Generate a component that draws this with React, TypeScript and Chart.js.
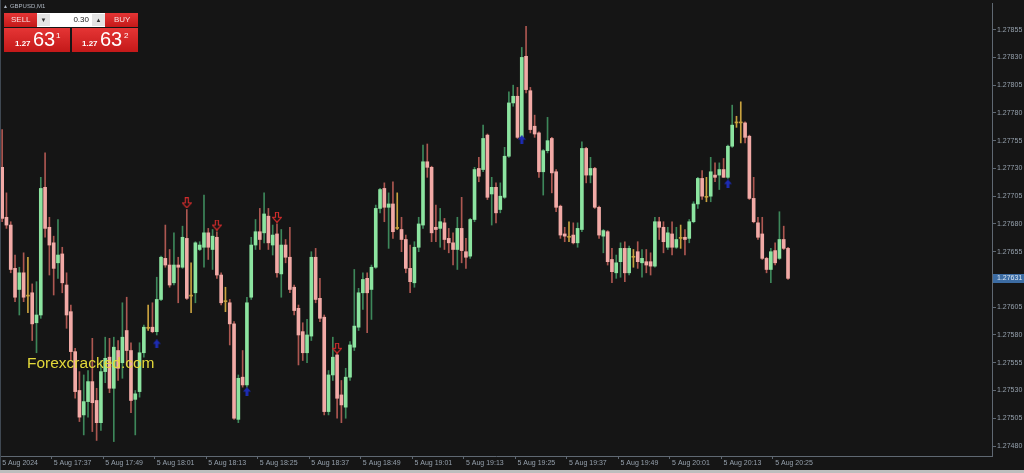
import React, { useEffect, useRef } from "react";
import { Chart, registerables } from "chart.js";

Chart.register(...registerables);

// ---- data (GBPUSD, M1, 5 Aug 2024 from 17:25) ----
const opens = [
  1.27731, 1.27686, 1.27679, 1.27640, 1.27621, 1.27636, 1.27615, 1.27618, 1.27591, 1.27598,
  1.27713, 1.27677, 1.27663, 1.27645, 1.27653, 1.27625, 1.27601, 1.27565, 1.27530, 1.27508,
  1.27520, 1.27538, 1.27521, 1.27501, 1.27547, 1.27560, 1.27532, 1.27566, 1.27555, 1.27584,
  1.27566, 1.27522, 1.27529, 1.27564, 1.27586, 1.27587, 1.27583, 1.27612, 1.27649, 1.27643,
  1.27627, 1.27643, 1.27641, 1.27667, 1.27615, 1.27618, 1.27657, 1.27659, 1.27672, 1.27657,
  1.27668, 1.27634, 1.27610, 1.27609, 1.27590, 1.27504, 1.27542, 1.27535, 1.27614, 1.27661,
  1.27673, 1.27672, 1.27687, 1.27661, 1.27671, 1.27635, 1.27661, 1.27650, 1.27623, 1.27604,
  1.27583, 1.27564, 1.27579, 1.27650, 1.27613, 1.27596, 1.27511, 1.27544, 1.27562, 1.27526,
  1.27515, 1.27542, 1.27569, 1.27587, 1.27618, 1.27631, 1.27621, 1.27641, 1.27694, 1.27712,
  1.27695, 1.27698, 1.27676, 1.27675, 1.27666, 1.27640, 1.27627, 1.27659, 1.27679, 1.27736,
  1.27731, 1.27677, 1.27676, 1.27681, 1.27667, 1.27663, 1.27657, 1.27676, 1.27655, 1.27651,
  1.27684, 1.27730, 1.27729, 1.27760, 1.27707, 1.27713, 1.27693, 1.27704, 1.27741, 1.27789,
  1.27795, 1.27758, 1.27831, 1.27800, 1.27768, 1.27762, 1.27727, 1.27746, 1.27757, 1.27727,
  1.27696, 1.27671, 1.27668, 1.27670, 1.27663, 1.27675, 1.27748, 1.27724, 1.27730, 1.27695,
  1.27669, 1.27673, 1.27648, 1.27636, 1.27646, 1.27658, 1.27636, 1.27650, 1.27655, 1.27645,
  1.27646, 1.27646, 1.27642, 1.27682, 1.27677, 1.27659, 1.27671, 1.27659, 1.27667, 1.27668,
  1.27667, 1.27682, 1.27698, 1.27721, 1.27704, 1.27705, 1.27724, 1.27724, 1.27729, 1.27722,
  1.27750, 1.27771, 1.27771, 1.27771, 1.27759, 1.27703, 1.27681, 1.27671, 1.27649, 1.27639,
  1.27656, 1.27649, 1.27666, 1.27658,
];

const highs = [
  1.27765, 1.27708, 1.27682, 1.27652, 1.27641, 1.27654, 1.27650, 1.27626, 1.27628, 1.27722,
  1.27744, 1.27686, 1.27669, 1.27684, 1.27659, 1.27636, 1.27607, 1.27568, 1.27547, 1.27544,
  1.27548, 1.27577, 1.27532, 1.27557, 1.27578, 1.27577, 1.27578, 1.27575, 1.27609, 1.27614,
  1.27573, 1.27530, 1.27573, 1.27589, 1.27607, 1.27609, 1.27632, 1.27651, 1.27679, 1.27657,
  1.27672, 1.27650, 1.27678, 1.27693, 1.27645, 1.27664, 1.27664, 1.27706, 1.27676, 1.27675,
  1.27673, 1.27636, 1.27623, 1.27612, 1.27592, 1.27544, 1.27566, 1.27614, 1.27668, 1.27684,
  1.27694, 1.27708, 1.27694, 1.27679, 1.27680, 1.27675, 1.27666, 1.27677, 1.27625, 1.27607,
  1.27591, 1.27594, 1.27655, 1.27658, 1.27631, 1.27598, 1.27548, 1.27578, 1.27563, 1.27539,
  1.27550, 1.27574, 1.27639, 1.27622, 1.27636, 1.27636, 1.27643, 1.27697, 1.27712, 1.27717,
  1.27708, 1.27718, 1.27708, 1.27686, 1.27670, 1.27661, 1.27664, 1.27686, 1.27751, 1.27752,
  1.27732, 1.27697, 1.27694, 1.27685, 1.27676, 1.27672, 1.27686, 1.27704, 1.27667, 1.27685,
  1.27731, 1.27740, 1.27769, 1.27761, 1.27722, 1.27717, 1.27717, 1.27749, 1.27799, 1.27805,
  1.27803, 1.27839, 1.27858, 1.27803, 1.27778, 1.27763, 1.27747, 1.27776, 1.27758, 1.27729,
  1.27697, 1.27677, 1.27682, 1.27681, 1.27681, 1.27754, 1.27749, 1.27740, 1.27731, 1.27696,
  1.27675, 1.27674, 1.27658, 1.27652, 1.27663, 1.27664, 1.27660, 1.27657, 1.27664, 1.27657,
  1.27657, 1.27654, 1.27686, 1.27686, 1.27682, 1.27677, 1.27682, 1.27677, 1.27679, 1.27675,
  1.27684, 1.27700, 1.27722, 1.27728, 1.27722, 1.27740, 1.27735, 1.27735, 1.27739, 1.27751,
  1.27787, 1.27777, 1.27790, 1.27772, 1.27760, 1.27722, 1.27686, 1.27686, 1.27650, 1.27658,
  1.27663, 1.27691, 1.27678, 1.27659,
];

const lows = [
  1.27682, 1.27676, 1.27636, 1.27610, 1.27598, 1.27610, 1.27600, 1.27575, 1.27564, 1.27595,
  1.27668, 1.27634, 1.27616, 1.27631, 1.27618, 1.27586, 1.27557, 1.27523, 1.27502, 1.27490,
  1.27506, 1.27493, 1.27485, 1.27494, 1.27537, 1.27528, 1.27484, 1.27539, 1.27541, 1.27553,
  1.27510, 1.27490, 1.27524, 1.27560, 1.27584, 1.27582, 1.27580, 1.27611, 1.27641, 1.27623,
  1.27625, 1.27609, 1.27640, 1.27612, 1.27600, 1.27609, 1.27656, 1.27641, 1.27648, 1.27639,
  1.27631, 1.27607, 1.27601, 1.27571, 1.27504, 1.27501, 1.27533, 1.27533, 1.27612, 1.27657,
  1.27657, 1.27663, 1.27657, 1.27652, 1.27632, 1.27614, 1.27645, 1.27618, 1.27598, 1.27553,
  1.27557, 1.27555, 1.27575, 1.27609, 1.27592, 1.27508, 1.27508, 1.27539, 1.27505, 1.27501,
  1.27505, 1.27539, 1.27566, 1.27584, 1.27603, 1.27582, 1.27594, 1.27640, 1.27690, 1.27682,
  1.27658, 1.27667, 1.27675, 1.27655, 1.27636, 1.27618, 1.27623, 1.27655, 1.27676, 1.27722,
  1.27664, 1.27664, 1.27659, 1.27657, 1.27654, 1.27643, 1.27639, 1.27645, 1.27640, 1.27649,
  1.27682, 1.27718, 1.27727, 1.27702, 1.27679, 1.27681, 1.27690, 1.27703, 1.27740, 1.27786,
  1.27757, 1.27756, 1.27798, 1.27762, 1.27758, 1.27722, 1.27706, 1.27744, 1.27708, 1.27691,
  1.27667, 1.27664, 1.27664, 1.27662, 1.27659, 1.27673, 1.27717, 1.27717, 1.27694, 1.27667,
  1.27654, 1.27643, 1.27627, 1.27631, 1.27632, 1.27628, 1.27634, 1.27641, 1.27640, 1.27632,
  1.27636, 1.27634, 1.27641, 1.27666, 1.27654, 1.27657, 1.27652, 1.27658, 1.27658, 1.27652,
  1.27663, 1.27681, 1.27694, 1.27702, 1.27700, 1.27700, 1.27718, 1.27711, 1.27722, 1.27721,
  1.27749, 1.27767, 1.27753, 1.27753, 1.27702, 1.27681, 1.27666, 1.27648, 1.27636, 1.27627,
  1.27643, 1.27648, 1.27657, 1.27630,
];

const closes = [
  1.27685, 1.27679, 1.27639, 1.27614, 1.27636, 1.27614, 1.27615, 1.27590, 1.27598, 1.27712,
  1.27676, 1.27661, 1.27640, 1.27652, 1.27627, 1.27598, 1.27565, 1.27529, 1.27506, 1.27520,
  1.27538, 1.27519, 1.27501, 1.27547, 1.27559, 1.27532, 1.27569, 1.27550, 1.27578, 1.27566,
  1.27521, 1.27527, 1.27564, 1.27587, 1.27586, 1.27583, 1.27612, 1.27650, 1.27643, 1.27625,
  1.27643, 1.27641, 1.27668, 1.27613, 1.27615, 1.27663, 1.27661, 1.27672, 1.27659, 1.27669,
  1.27634, 1.27609, 1.27610, 1.27590, 1.27505, 1.27541, 1.27535, 1.27609, 1.27661, 1.27673,
  1.27666, 1.27689, 1.27663, 1.27670, 1.27636, 1.27661, 1.27650, 1.27621, 1.27602, 1.27580,
  1.27564, 1.27580, 1.27650, 1.27612, 1.27595, 1.27511, 1.27544, 1.27560, 1.27523, 1.27517,
  1.27542, 1.27571, 1.27588, 1.27618, 1.27630, 1.27618, 1.27641, 1.27694, 1.27711, 1.27695,
  1.27698, 1.27673, 1.27676, 1.27666, 1.27640, 1.27628, 1.27659, 1.27680, 1.27736, 1.27731,
  1.27672, 1.27675, 1.27682, 1.27666, 1.27663, 1.27657, 1.27676, 1.27656, 1.27650, 1.27684,
  1.27729, 1.27723, 1.27757, 1.27704, 1.27713, 1.27690, 1.27705, 1.27741, 1.27789, 1.27795,
  1.27758, 1.27830, 1.27801, 1.27765, 1.27761, 1.27727, 1.27746, 1.27755, 1.27726, 1.27695,
  1.27670, 1.27669, 1.27668, 1.27663, 1.27676, 1.27748, 1.27724, 1.27730, 1.27695, 1.27670,
  1.27674, 1.27646, 1.27637, 1.27645, 1.27658, 1.27636, 1.27658, 1.27650, 1.27646, 1.27649,
  1.27643, 1.27642, 1.27682, 1.27677, 1.27664, 1.27672, 1.27659, 1.27666, 1.27667, 1.27666,
  1.27682, 1.27698, 1.27721, 1.27705, 1.27704, 1.27727, 1.27722, 1.27729, 1.27722, 1.27750,
  1.27769, 1.27771, 1.27771, 1.27758, 1.27703, 1.27682, 1.27668, 1.27649, 1.27639, 1.27655,
  1.27645, 1.27666, 1.27658, 1.27631,
];

// signal arrows (bar index, price)
const sellIdx = [43, 50, 64, 78];
const sellPrice = [1.27699, 1.27679, 1.27686, 1.27568];
const buyIdx = [36, 57, 121, 169];
const buyPrice = [1.27572, 1.27529, 1.27756, 1.27716];

// axis labels
const yTicks = [
  1.2748, 1.27505, 1.2753, 1.27555, 1.2758, 1.27605, 1.2763, 1.27655,
  1.2768, 1.27705, 1.2773, 1.27755, 1.2778, 1.27805, 1.2783, 1.27855,
];
const xTickTimes = [
  "17:37", "17:49", "18:01", "18:13", "18:25", "18:37", "18:49", "19:01",
  "19:13", "19:25", "19:37", "19:49", "20:01", "20:13", "20:25",
];
const firstLabel = "5 Aug 2024";
const SLOTS = 231; // visible bar slots incl. empty right margin
const START_MIN = 17 * 60 + 25;
const Y_MIN = 1.27471;
const Y_MAX = 1.27879;

const categories: string[] = Array.from({ length: SLOTS }, (_, i) => {
  const m = START_MIN + i;
  return `${Math.floor(m / 60)}:${String(m % 60).padStart(2, "0")}`;
});

const BULL = "#8ce4a0";
const BEAR = "#f2aaa6";
const BULL_WICK = "#3d875a";
const BEAR_WICK = "#ad5751";
const DOJI = "#c9a23f";
const AXIS = "#5f6872";
const LABEL = "#95a0ac";
const FONT = "'Liberation Sans', Arial, sans-serif";

function makeSellArrow() {
  const c = document.createElement("canvas");
  c.width = 10;
  c.height = 11;
  const g = c.getContext("2d")!;
  g.strokeStyle = "#cc2c2c";
  g.lineWidth = 1.2;
  g.beginPath();
  g.moveTo(3.5, 0.5);
  g.lineTo(6.5, 0.5);
  g.lineTo(6.5, 5.5);
  g.lineTo(9.5, 5.5);
  g.lineTo(5, 10.5);
  g.lineTo(0.5, 5.5);
  g.lineTo(3.5, 5.5);
  g.closePath();
  g.stroke();
  return c;
}

function makeBuyArrow() {
  const c = document.createElement("canvas");
  c.width = 8;
  c.height = 9;
  const g = c.getContext("2d")!;
  g.fillStyle = "#1d2cb3";
  g.beginPath();
  g.moveTo(4, 0);
  g.lineTo(8, 4.5);
  g.lineTo(5.5, 4.5);
  g.lineTo(5.5, 9);
  g.lineTo(2.5, 9);
  g.lineTo(2.5, 4.5);
  g.lineTo(0, 4.5);
  g.closePath();
  g.fill();
  return c;
}

const isTickIndex = (i: number) => i === 0 || xTickTimes.includes(categories[i]);

export default function App() {
  const ref = useRef<HTMLCanvasElement | null>(null);

  useEffect(() => {
    document.body.style.margin = "0";
    const canvas = ref.current;
    if (!canvas) return;

    const bodyColors = opens.map((o, i) =>
      closes[i] > o ? BULL : closes[i] < o ? BEAR : DOJI
    );
    const wickColors = opens.map((o, i) =>
      closes[i] > o ? BULL_WICK : closes[i] < o ? BEAR_WICK : DOJI
    );

    const priceLabel = {
      id: "priceLabel",
      afterDraw(chart: any) {
        const { ctx, chartArea } = chart;
        const last = closes[closes.length - 1];
        const y = chart.scales.y.getPixelForValue(last);
        ctx.save();
        ctx.fillStyle = "#3c6ca3";
        ctx.fillRect(chartArea.right + 1, Math.round(y) - 4, 31, 9);
        ctx.fillStyle = "#d9e6f3";
        ctx.font = `7px ${FONT}`;
        ctx.textBaseline = "middle";
        ctx.textAlign = "left";
        ctx.fillText(last.toFixed(5), chartArea.right + 5, Math.round(y) + 0.5);
        ctx.restore();
      },
    };

    const chart = new Chart(canvas, {
      type: "bar",
      data: {
        labels: categories,
        datasets: [
          {
            type: "line",
            data: categories.map((_, i) => {
              const k = sellIdx.indexOf(i);
              return k >= 0 ? sellPrice[k] : null;
            }),
            showLine: false,
            pointStyle: makeSellArrow(),
            pointRadius: 5,
            order: 0,
          } as any,
          {
            type: "line",
            data: categories.map((_, i) => {
              const k = buyIdx.indexOf(i);
              return k >= 0 ? buyPrice[k] : null;
            }),
            showLine: false,
            pointStyle: makeBuyArrow(),
            pointRadius: 5,
            order: 0,
          } as any,
          {
            type: "bar",
            data: opens.map((o, i) => [Math.min(o, closes[i]), Math.max(o, closes[i])]),
            backgroundColor: bodyColors,
            barThickness: 3,
            minBarLength: 1,
            grouped: false,
            borderWidth: 0,
            order: 1,
          } as any,
          {
            type: "bar",
            data: lows.map((l, i) => [l, highs[i]]),
            backgroundColor: wickColors,
            barThickness: 1,
            grouped: false,
            borderWidth: 0,
            order: 2,
          } as any,
        ],
      },
      options: {
        responsive: false,
        animation: false,
        events: [],
        devicePixelRatio: 1,
        layout: { autoPadding: false, padding: { top: 3, left: 0, right: 0, bottom: 0 } },
        plugins: {
          legend: { display: false },
          tooltip: { enabled: false },
        },
        scales: {
          x: {
            type: "category",
            position: "bottom",
            offset: true,
            grid: {
              display: true,
              drawOnChartArea: false,
              drawTicks: true,
              tickLength: 3,
              color: (ctx: any) => (isTickIndex(ctx.index) ? AXIS : "rgba(0,0,0,0)"),
            },
            border: { display: true, color: AXIS },
            ticks: {
              autoSkip: false,
              maxRotation: 0,
              minRotation: 0,
              align: "start",
              padding: 0,
              color: LABEL,
              font: { family: FONT, size: 7 },
              callback: (_v: any, i: number) =>
                i === 0 ? firstLabel : xTickTimes.includes(categories[i]) ? "5 Aug " + categories[i] : "",
            },
            afterFit: (s: any) => {
              s.height = 17;
              s.paddingLeft = 0;
              s.paddingRight = 0;
            },
          },
          y: {
            type: "linear",
            position: "right",
            min: Y_MIN,
            max: Y_MAX,
            afterBuildTicks: (s: any) => {
              s.ticks = yTicks.map((v) => ({ value: v }));
            },
            grid: {
              display: true,
              drawOnChartArea: false,
              drawTicks: true,
              tickLength: 4,
              color: AXIS,
            },
            border: { display: true, color: AXIS },
            ticks: {
              padding: 1,
              color: LABEL,
              font: { family: FONT, size: 7 },
              callback: (v: any) => Number(v).toFixed(5),
            },
            afterFit: (s: any) => {
              s.width = 32;
              s.paddingTop = 0;
              s.paddingBottom = 0;
            },
          },
        },
      } as any,
      plugins: [priceLabel],
    });

    return () => chart.destroy();
  }, []);

  const white = "#ffffff";
  const redGrad = "linear-gradient(#e53535, #c41919)";

  return (
    <div
      style={{
        position: "absolute",
        left: 0,
        top: 0,
        width: 1024,
        height: 473,
        background: "#151515",
        overflow: "hidden",
        fontFamily: FONT,
      }}
    >
      <canvas ref={ref} width={1024} height={473} style={{ position: "absolute", left: 0, top: 0, display: "block" }} />

      {/* left border and bottom strip */}
      <div style={{ position: "absolute", left: 0, top: 0, width: 1, height: 470, background: "#3f4852" }} />
      <div style={{ position: "absolute", left: 0, top: 470, width: 1024, height: 3, background: "#bdbdbd" }} />

      {/* symbol header */}
      <div style={{ position: "absolute", left: 3, top: 2, fontSize: 6, color: "#aeb7c2", lineHeight: "8px", whiteSpace: "nowrap" }}>
        <span style={{ fontSize: 5, marginRight: 2 }}>▲</span>GBPUSD,M1
      </div>

      {/* one-click trading panel */}
      <div style={{ position: "absolute", left: 4, top: 13, width: 134, height: 14, background: redGrad }} />
      <div style={{ position: "absolute", left: 11, top: 16, fontSize: 8, lineHeight: "8px", color: "#f7e2e2" }}>SELL</div>
      <div style={{ position: "absolute", left: 114, top: 16, fontSize: 8, lineHeight: "8px", color: "#f7e2e2" }}>BUY</div>
      <div style={{ position: "absolute", left: 37, top: 13, width: 68, height: 14, background: "#ffffff" }} />
      <div style={{ position: "absolute", left: 37, top: 14, width: 13, height: 12, background: "#e4e4e4", color: "#333", fontSize: 6, lineHeight: "12px", textAlign: "center" }}>▼</div>
      <div style={{ position: "absolute", left: 92, top: 14, width: 13, height: 12, background: "#e4e4e4", color: "#333", fontSize: 6, lineHeight: "12px", textAlign: "center" }}>▲</div>
      <div style={{ position: "absolute", left: 60, width: 29, top: 16, fontSize: 8, lineHeight: "8px", color: "#222", textAlign: "right" }}>0.30</div>

      <div style={{ position: "absolute", left: 4, top: 28, width: 66, height: 24, background: redGrad }} />
      <div style={{ position: "absolute", left: 72, top: 28, width: 66, height: 24, background: redGrad }} />
      <div style={{ position: "absolute", left: 15, top: 40, fontSize: 8, fontWeight: "bold", lineHeight: 1, color: white }}>1.27</div>
      <div style={{ position: "absolute", left: 33, top: 29, fontSize: 20, lineHeight: 1, color: white }}>63</div>
      <div style={{ position: "absolute", left: 56, top: 32, fontSize: 8, lineHeight: 1, color: white }}>1</div>
      <div style={{ position: "absolute", left: 82, top: 40, fontSize: 8, fontWeight: "bold", lineHeight: 1, color: white }}>1.27</div>
      <div style={{ position: "absolute", left: 100, top: 29, fontSize: 20, lineHeight: 1, color: white }}>63</div>
      <div style={{ position: "absolute", left: 124, top: 32, fontSize: 8, lineHeight: 1, color: white }}>2</div>

      {/* watermark */}
      <div style={{ position: "absolute", left: 27, top: 355, fontSize: 15.5, lineHeight: 1, color: "#e2d83a", whiteSpace: "nowrap" }}>
        Forexcracked.com
      </div>
    </div>
  );
}
